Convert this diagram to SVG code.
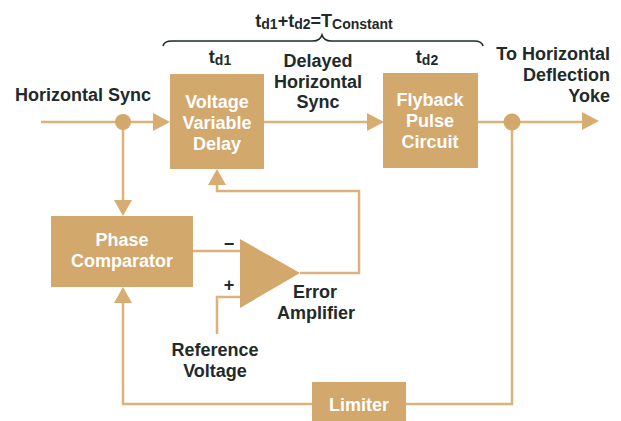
<svg xmlns="http://www.w3.org/2000/svg" width="621" height="421" viewBox="0 0 621 421">
<style>
.box{fill:#d2a86c}
.ln{fill:none;stroke:#dcb27a;stroke-width:2.5}
.ah{fill:#d8ad72}
.dot{fill:#d2a86c}
text{font-family:"Liberation Sans",Arial,Helvetica,sans-serif;font-weight:bold;font-size:18px}
.lbl{fill:#1f2a2a}
.in{fill:#ffffff;text-anchor:middle}
.c{text-anchor:middle}
.sub{font-size:14px}
</style>
<rect width="621" height="421" fill="#ffffff"/>
<g id="connectors">
<path class="ln" d="M41,122 H155"/>
<path class="ln" d="M123,122 V202"/>
<path class="ln" d="M264,122 H369"/>
<path class="ln" d="M478,122 H584"/>
<path class="ln" d="M512,122 V404 H406"/>
<path class="ln" d="M312,404 H123 V301"/>
<path class="ln" d="M300,273 H359 V191 H217 V183"/>
<path class="ln" d="M193,251 H240"/>
<path class="ln" d="M240,297 H217 V334"/>
<polygon class="ah" points="153,113 170,122 153,131"/>
<polygon class="ah" points="367,113 384,122 367,131"/>
<polygon class="ah" points="582,112 599,121 582,130"/>
<polygon class="ah" points="114,200 123,216 132,200"/>
<polygon class="ah" points="114,303 123,287 132,303"/>
<polygon class="ah" points="208,185 217,169 226,185"/>
<circle class="dot" cx="123" cy="122" r="8"/>
<circle class="dot" cx="512" cy="122" r="8.5"/>
</g>
<g id="vvd">
<rect class="box" x="170" y="74" width="94" height="95"/>
<text class="in" x="217" y="108">Voltage</text>
<text class="in" x="217" y="129">Variable</text>
<text class="in" x="217" y="150">Delay</text>
</g>
<g id="flyback">
<rect class="box" x="383" y="73" width="95" height="95"/>
<text class="in" x="430" y="106">Flyback</text>
<text class="in" x="430" y="127">Pulse</text>
<text class="in" x="430" y="148">Circuit</text>
</g>
<g id="phase">
<rect class="box" x="51" y="216" width="142" height="71"/>
<text class="in" x="122" y="246">Phase</text>
<text class="in" x="122" y="267">Comparator</text>
</g>
<g id="amplifier">
<polygon class="box" points="240,239 300,273 240,308"/>
<text class="lbl" x="229" y="250" text-anchor="middle">−</text>
<text class="lbl" x="229" y="291" text-anchor="middle">+</text>
<text class="lbl c" x="315" y="298">Error</text>
<text class="lbl c" x="316" y="319">Amplifier</text>
</g>
<g id="limiter">
<rect class="box" x="312" y="382" width="94" height="39"/>
<text class="in" x="359" y="411">Limiter</text>
</g>
<g id="labels">
<text class="lbl" x="15" y="101">Horizontal Sync</text>
<text class="lbl c" x="318" y="67">Delayed</text>
<text class="lbl c" x="318" y="88">Horizontal</text>
<text class="lbl c" x="318" y="108">Sync</text>
<text class="lbl" x="610" y="60" text-anchor="end">To Horizontal</text>
<text class="lbl" x="610" y="81" text-anchor="end">Deflection</text>
<text class="lbl" x="610" y="102" text-anchor="end">Yoke</text>
<text class="lbl c" x="215" y="356">Reference</text>
<text class="lbl c" x="215" y="377">Voltage</text>
<text class="lbl c" x="220" y="63">t<tspan class="sub" dy="2">d1</tspan></text>
<text class="lbl c" x="427" y="63">t<tspan class="sub" dy="2">d2</tspan></text>
<text class="lbl c" x="324" y="27" font-size="19">t<tspan class="sub" dy="2">d1</tspan><tspan dy="-2">+t</tspan><tspan class="sub" dy="2">d2</tspan><tspan dy="-2">=T</tspan><tspan class="sub" dy="2">Constant</tspan></text>
<path d="M163,46 Q164,41 172,41 L313,41 Q320,41 322,35 Q324,41 331,41 L474,41 Q482,41 483,46" fill="none" stroke="#1f2a2a" stroke-width="1.6"/>
</g>
</svg>
